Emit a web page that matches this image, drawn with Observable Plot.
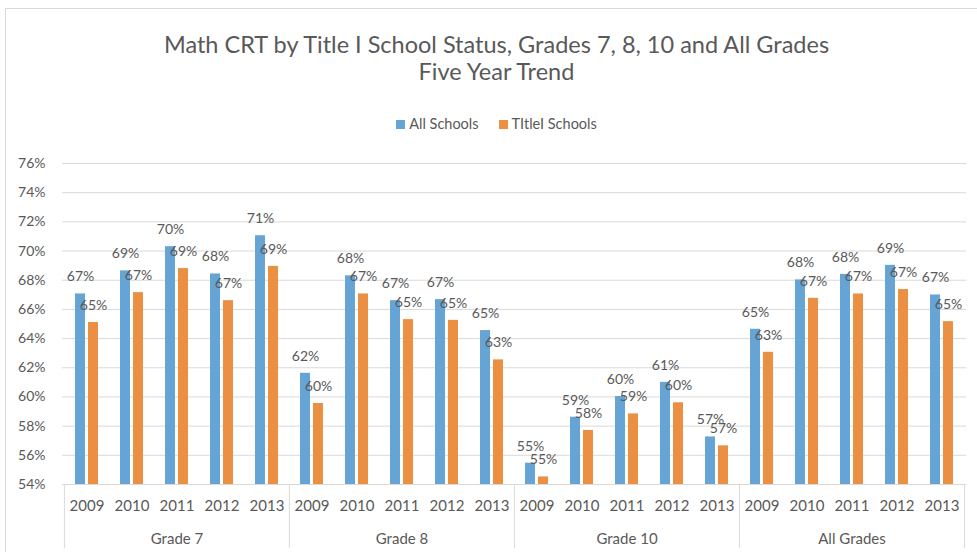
<!DOCTYPE html>
<html>
<head>
<meta charset="utf-8">
<script src="https://cdn.jsdelivr.net/npm/d3@7"></script>
<script src="https://cdn.jsdelivr.net/npm/@observablehq/plot@0.6"></script>
<style>
  html, body { margin: 0; padding: 0; background: #fff; }
  #wrap { position: relative; width: 977px; height: 552px; overflow: hidden; font-family: Lato, "Open Sans", sans-serif; color: #595959; }
  #border { position: absolute; left: 5px; top: 8px; width: 1000px; height: 600px; border: 1px solid #d9d9d9; box-sizing: border-box; pointer-events: none; }
  #header { position: relative; height: 150px; }
  .title { position: absolute; left: 5px; width: 983px; text-align: center; font-size: 23.5px; line-height: 27px; }
  #t1 { top: 31px; }
  #t2 { top: 58px; }
  #legend { position: absolute; left: 5px; width: 983px; top: 115px; text-align: center; font-size: 14.5px; line-height: 18px; }
  .item { display: inline-block; margin: 0 10px; }
  .sw { display: inline-block; width: 9px; height: 9px; margin-right: 4px; vertical-align: 0px; }
  #chart svg { display: block; }
</style>
</head>
<body>
<div id="wrap">
  <div id="border"></div>
  <div id="header">
    <div class="title" id="t1"></div>
    <div class="title" id="t2"></div>
    <div id="legend"></div>
  </div>
  <div id="chart"></div>
</div>
<script>
const titleLines = ["Math CRT by Title I School Status, Grades 7, 8, 10 and All Grades", "Five Year Trend"];
const groups = ["Grade 7", "Grade 8", "Grade 10", "All Grades"];
const years = ["2009", "2010", "2011", "2012", "2013"];
const seriesNames = ["All Schools", "TItleI Schools"];
const seriesColors = ["#65A4D5", "#EB8F42"];
const yTicks = [54, 56, 58, 60, 62, 64, 66, 68, 70, 72, 74, 76];
// values in %, order: groups x years
const allSchools = [67.06, 68.64, 70.3, 68.43, 71.05,
                    61.62, 68.3, 66.6, 66.67, 64.55,
                    55.46, 58.61, 60.03, 61.0, 57.26,
                    64.64, 68.02, 68.4, 69.02, 66.99];
const titleISchools = [65.1, 67.15, 68.8, 66.6, 68.95,
                       59.55, 67.06, 65.3, 65.25, 62.54,
                       54.52, 57.7, 58.84, 59.6, 56.65,
                       63.06, 66.76, 67.06, 67.36, 65.16];

document.getElementById("t1").textContent = titleLines[0];
document.getElementById("t2").textContent = titleLines[1];
const legend = document.getElementById("legend");
seriesNames.forEach((n, i) => {
  const it = document.createElement("span");
  it.className = "item";
  const sw = document.createElement("span");
  sw.className = "sw";
  sw.style.background = seriesColors[i];
  it.appendChild(sw);
  it.appendChild(document.createTextNode(n));
  legend.appendChild(it);
});

const keys = [];
const rows = [];
groups.forEach((g, gi) => years.forEach((yr, yi) => {
  const key = g + "|" + yr;
  keys.push(key);
  const idx = gi * years.length + yi;
  rows.push({key, group: g, year: yr, all: allSchools[idx], t1: titleISchools[idx]});
}));
const groupFirst = groups.map(g => ({key: g + "|" + years[0]}));
const groupLast = [{key: groups[groups.length - 1] + "|" + years[years.length - 1]}];
const groupMid = groups.map(g => ({key: g + "|" + years[2], label: g}));

const base = yTicks[0];
const ink = "#595959";
const half = (966 - 62) / keys.length / 2;

const chart = Plot.plot({
  width: 977,
  height: 402,
  marginTop: 13,
  marginBottom: 68,
  marginLeft: 62,
  marginRight: 11,
  style: {fontFamily: "Lato, 'Open Sans', sans-serif", color: ink, background: "transparent"},
  x: {domain: keys, padding: 0, axis: null},
  y: {domain: [yTicks[0], yTicks[yTicks.length - 1]], axis: null},
  marks: [
    Plot.gridY(yTicks, {stroke: "#d9d9d9", strokeOpacity: 1}),
    Plot.axisY(yTicks, {tickSize: 0, tickPadding: 17, tickFormat: d => d + "%", fill: ink, fontSize: 14, label: null}),
    Plot.axisX(keys, {tickSize: 0, tickPadding: 16, tickFormat: k => k.split("|")[1], fill: ink, fontSize: 15, label: null}),
    Plot.ruleX(groupFirst, {x: "key", y1: base, y2: base - 4.4, dx: -half, stroke: "#d9d9d9"}),
    Plot.ruleX(groupLast, {x: "key", y1: base, y2: base - 4.4, dx: half, stroke: "#d9d9d9"}),
    Plot.text(groupMid, {x: "key", y: base, text: "label", dy: 49, lineAnchor: "top", fill: ink, fontSize: 15}),
    Plot.barY(rows, {x: "key", y1: base, y2: "all", fill: seriesColors[0], insetLeft: 11, insetRight: 24}),
    Plot.barY(rows, {x: "key", y1: base, y2: "t1", fill: seriesColors[1], insetLeft: 24, insetRight: 11}),
    Plot.text(rows, {x: "key", y: "all", text: d => Math.round(d.all) + "%", dx: -6.4, dy: -17, fill: ink, fontSize: 14}),
    Plot.text(rows, {x: "key", y: "t1", text: d => Math.round(d.t1) + "%", dx: 6.5, dy: -17, fill: ink, fontSize: 14})
  ]
});
document.getElementById("chart").appendChild(chart);
</script>
</body>
</html>
